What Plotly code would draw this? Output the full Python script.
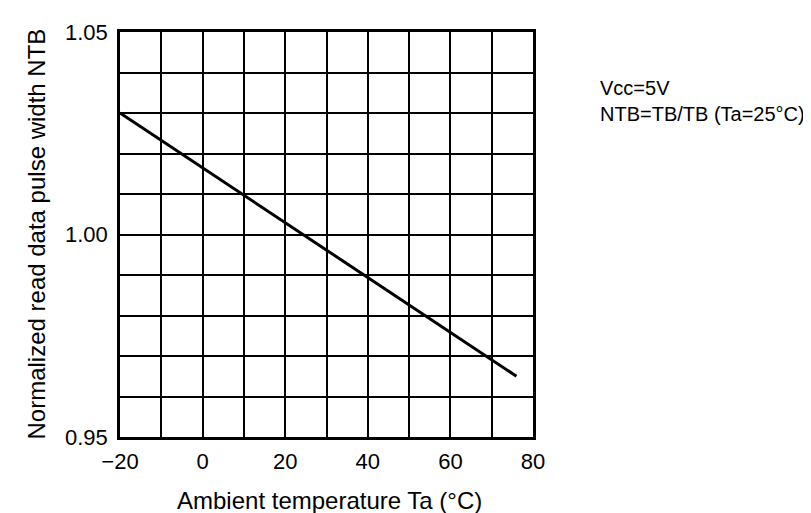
import plotly.graph_objects as go

# Data
temperature = [-20, 70, 76]
ntb = [1.030, 0.969, 0.965]

x_grid = [-20, -10, 0, 10, 20, 30, 40, 50, 60, 70, 80]
x_labels = ["\u221220", "", "0", "", "20", "", "40", "", "60", "", "80"]
y_grid = [0.95, 0.96, 0.97, 0.98, 0.99, 1.00, 1.01, 1.02, 1.03, 1.04, 1.05]
y_labels = ["0.95", "", "", "", "", "1.00", "", "", "", "", "1.05"]

x_title = "Ambient temperature Ta (\u00b0C)"
y_title = "Normalized read data pulse width NTB"
note_lines = ["Vcc=5V", "NTB=TB/TB (Ta=25\u00b0C)"]

font_family = "Liberation Sans, Arial, sans-serif"

fig = go.Figure()
fig.add_trace(go.Scatter(x=temperature, y=ntb, mode="lines",
                         line=dict(color="black", width=3), showlegend=False))

fig.update_xaxes(range=[-20, 80], tickvals=x_grid, ticktext=x_labels,
                 showgrid=True, gridcolor="black", gridwidth=2,
                 showline=True, linecolor="black", linewidth=2.5, mirror=True,
                 zeroline=False, ticks="", ticklabelstandoff=3,
                 tickfont=dict(size=22, color="black", family=font_family))
fig.update_yaxes(range=[0.95, 1.05], tickvals=y_grid, ticktext=y_labels,
                 showgrid=True, gridcolor="black", gridwidth=2,
                 showline=True, linecolor="black", linewidth=2.5, mirror=True,
                 zeroline=False, ticks="", ticklabelstandoff=5,
                 tickfont=dict(size=22, color="black", family=font_family))

fig.add_annotation(xref="paper", yref="paper", x=0.5, y=0, yanchor="middle",
                   xanchor="center", yshift=-63, xshift=3, text=x_title,
                   showarrow=False,
                   font=dict(size=24, color="black", family=font_family))
fig.add_annotation(xref="paper", yref="paper", x=0, y=0.5, yanchor="middle",
                   xanchor="center", xshift=-84, textangle=-90, text=y_title,
                   showarrow=False,
                   font=dict(size=24, color="black", family=font_family))
fig.add_annotation(xref="paper", yref="paper", x=1, y=1, xshift=65, yshift=-43,
                   text="<br>".join(note_lines), showarrow=False,
                   xanchor="left", yanchor="top", align="left",
                   font=dict(size=20, color="black", family=font_family))

fig.update_layout(width=811, height=513,
                  margin=dict(l=112, r=286, t=15, b=84),
                  plot_bgcolor="white", paper_bgcolor="white",
                  font=dict(family=font_family, color="black"))

fig.write_html("out.html")
